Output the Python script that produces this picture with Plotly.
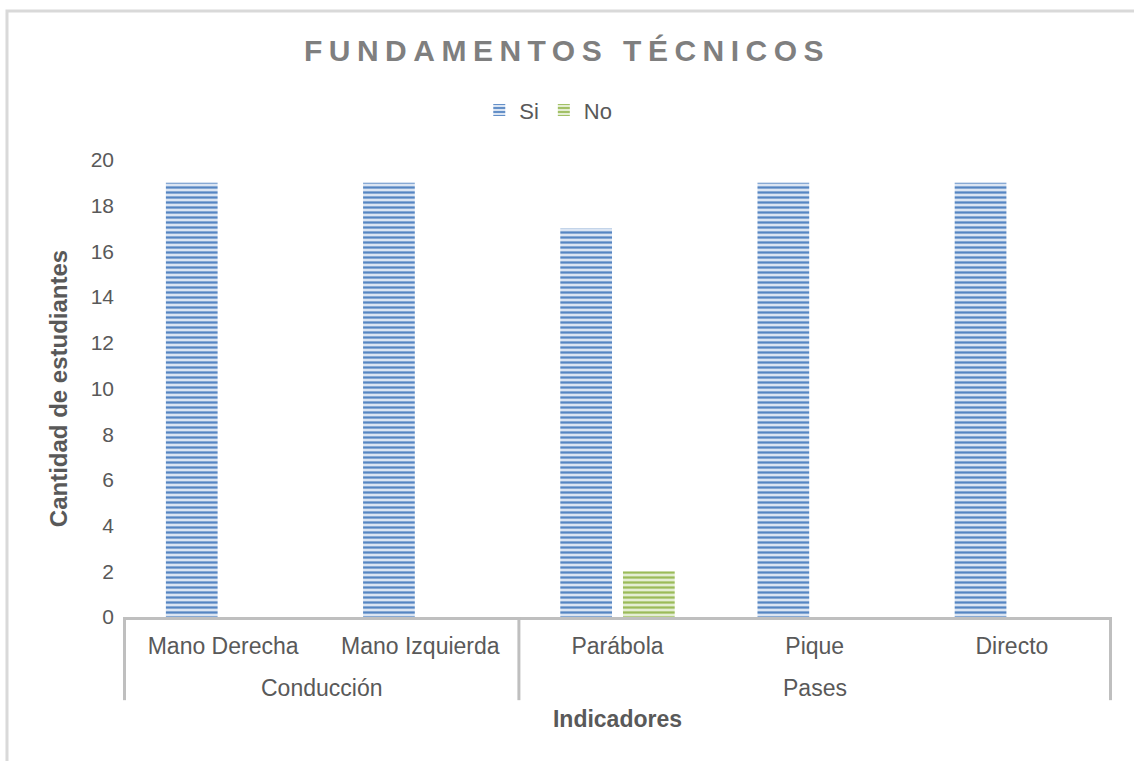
import plotly.graph_objects as go

groups = ["Conducción", "Conducción", "Pases", "Pases", "Pases"]
indicadores = ["Mano Derecha", "Mano Izquierda", "Parábola", "Pique", "Directo"]
si_values = [19, 19, 17, 19, 19]
no_values = [0, 0, 2, 0, 0]
y_ticks = list(range(0, 21, 2))

TXT = "#595959"
FONT = "Liberation Sans, Arial, sans-serif"
GRID = "#bfbfbf"

fig = go.Figure()
fig.add_trace(go.Bar(
    name="Si", x=indicadores, y=si_values,
    marker=dict(color="#dbe5f3", line=dict(width=0),
                pattern=dict(shape="-", fillmode="replace", fgcolor="#5585c2",
                             bgcolor="#dbe5f3", size=5, solidity=0.45)),
))
fig.add_trace(go.Bar(
    name="No", x=indicadores, y=no_values,
    marker=dict(color="#e4eed3", line=dict(width=0),
                pattern=dict(shape="-", fillmode="replace", fgcolor="#9bbb59",
                             bgcolor="#e4eed3", size=5, solidity=0.45)),
))

fig.update_layout(
    width=1134, height=761,
    margin=dict(l=123, r=22, t=160, b=144),
    paper_bgcolor="white", plot_bgcolor="white",
    font=dict(family=FONT, color=TXT, size=20),
    barmode="group", bargap=0.364, bargroupgap=0.175,
    title=dict(text="<b>FUNDAMENTOS TÉCNICOS</b>", x=0.5, xanchor="center",
               y=0.934, yanchor="middle",
               font=dict(size=30, color="#7f7f7f", family=FONT)),
    legend=dict(orientation="h", x=0.43, xanchor="center", y=1.109, yanchor="middle",
                font=dict(size=22, color=TXT), itemwidth=30, traceorder="normal"),
    showlegend=True,
)
fig.update_xaxes(
    type="category", showline=True, linecolor=GRID, linewidth=3,
    showgrid=False, ticks="", tickfont=dict(size=23, color=TXT), ticklabelstandoff=6,
    title=dict(text="<b>Indicadores</b>", font=dict(size=23, color=TXT), standoff=54),
)
fig.update_yaxes(
    range=[0, 20], tickvals=y_ticks, showline=False, showgrid=False, zeroline=False,
    tickfont=dict(size=21, color=TXT), ticks="", ticklabelstandoff=8,
    title=dict(text="<b>Cantidad de estudiantes</b>", font=dict(size=24, color=TXT), standoff=16),
)

# group labels and dividers for the two-level category axis
unique_groups = list(dict.fromkeys(groups))
bounds = [-0.5]
for g in unique_groups:
    idx = [i for i, gg in enumerate(groups) if gg == g]
    center = (idx[0] + idx[-1]) / 2
    fig.add_annotation(text=g, x=center, xref="x",
                       y=-0.155, yref="paper", yanchor="middle", showarrow=False,
                       font=dict(size=23, color=TXT))
    bounds.append(idx[-1] + 0.5)
for b in bounds:
    fig.add_shape(type="line", xref="x", yref="paper", x0=b, x1=b, y0=0, y1=-0.182,
                  line=dict(color=GRID, width=3))

# outer chart border
fig.add_shape(type="rect", xref="paper", yref="paper",
              x0=-0.1173, x1=1.04, y0=-0.35, y1=1.326,
              line=dict(color="#d9d9d9", width=3), fillcolor="rgba(0,0,0,0)", layer="below")

post = """
document.body.style.margin = '0';
var t = document.querySelector('.gtitle');
if (t) { t.style.letterSpacing = '6.5px'; }
"""
fig.write_html("out.html", post_script=post, config={"displayModeBar": False})
